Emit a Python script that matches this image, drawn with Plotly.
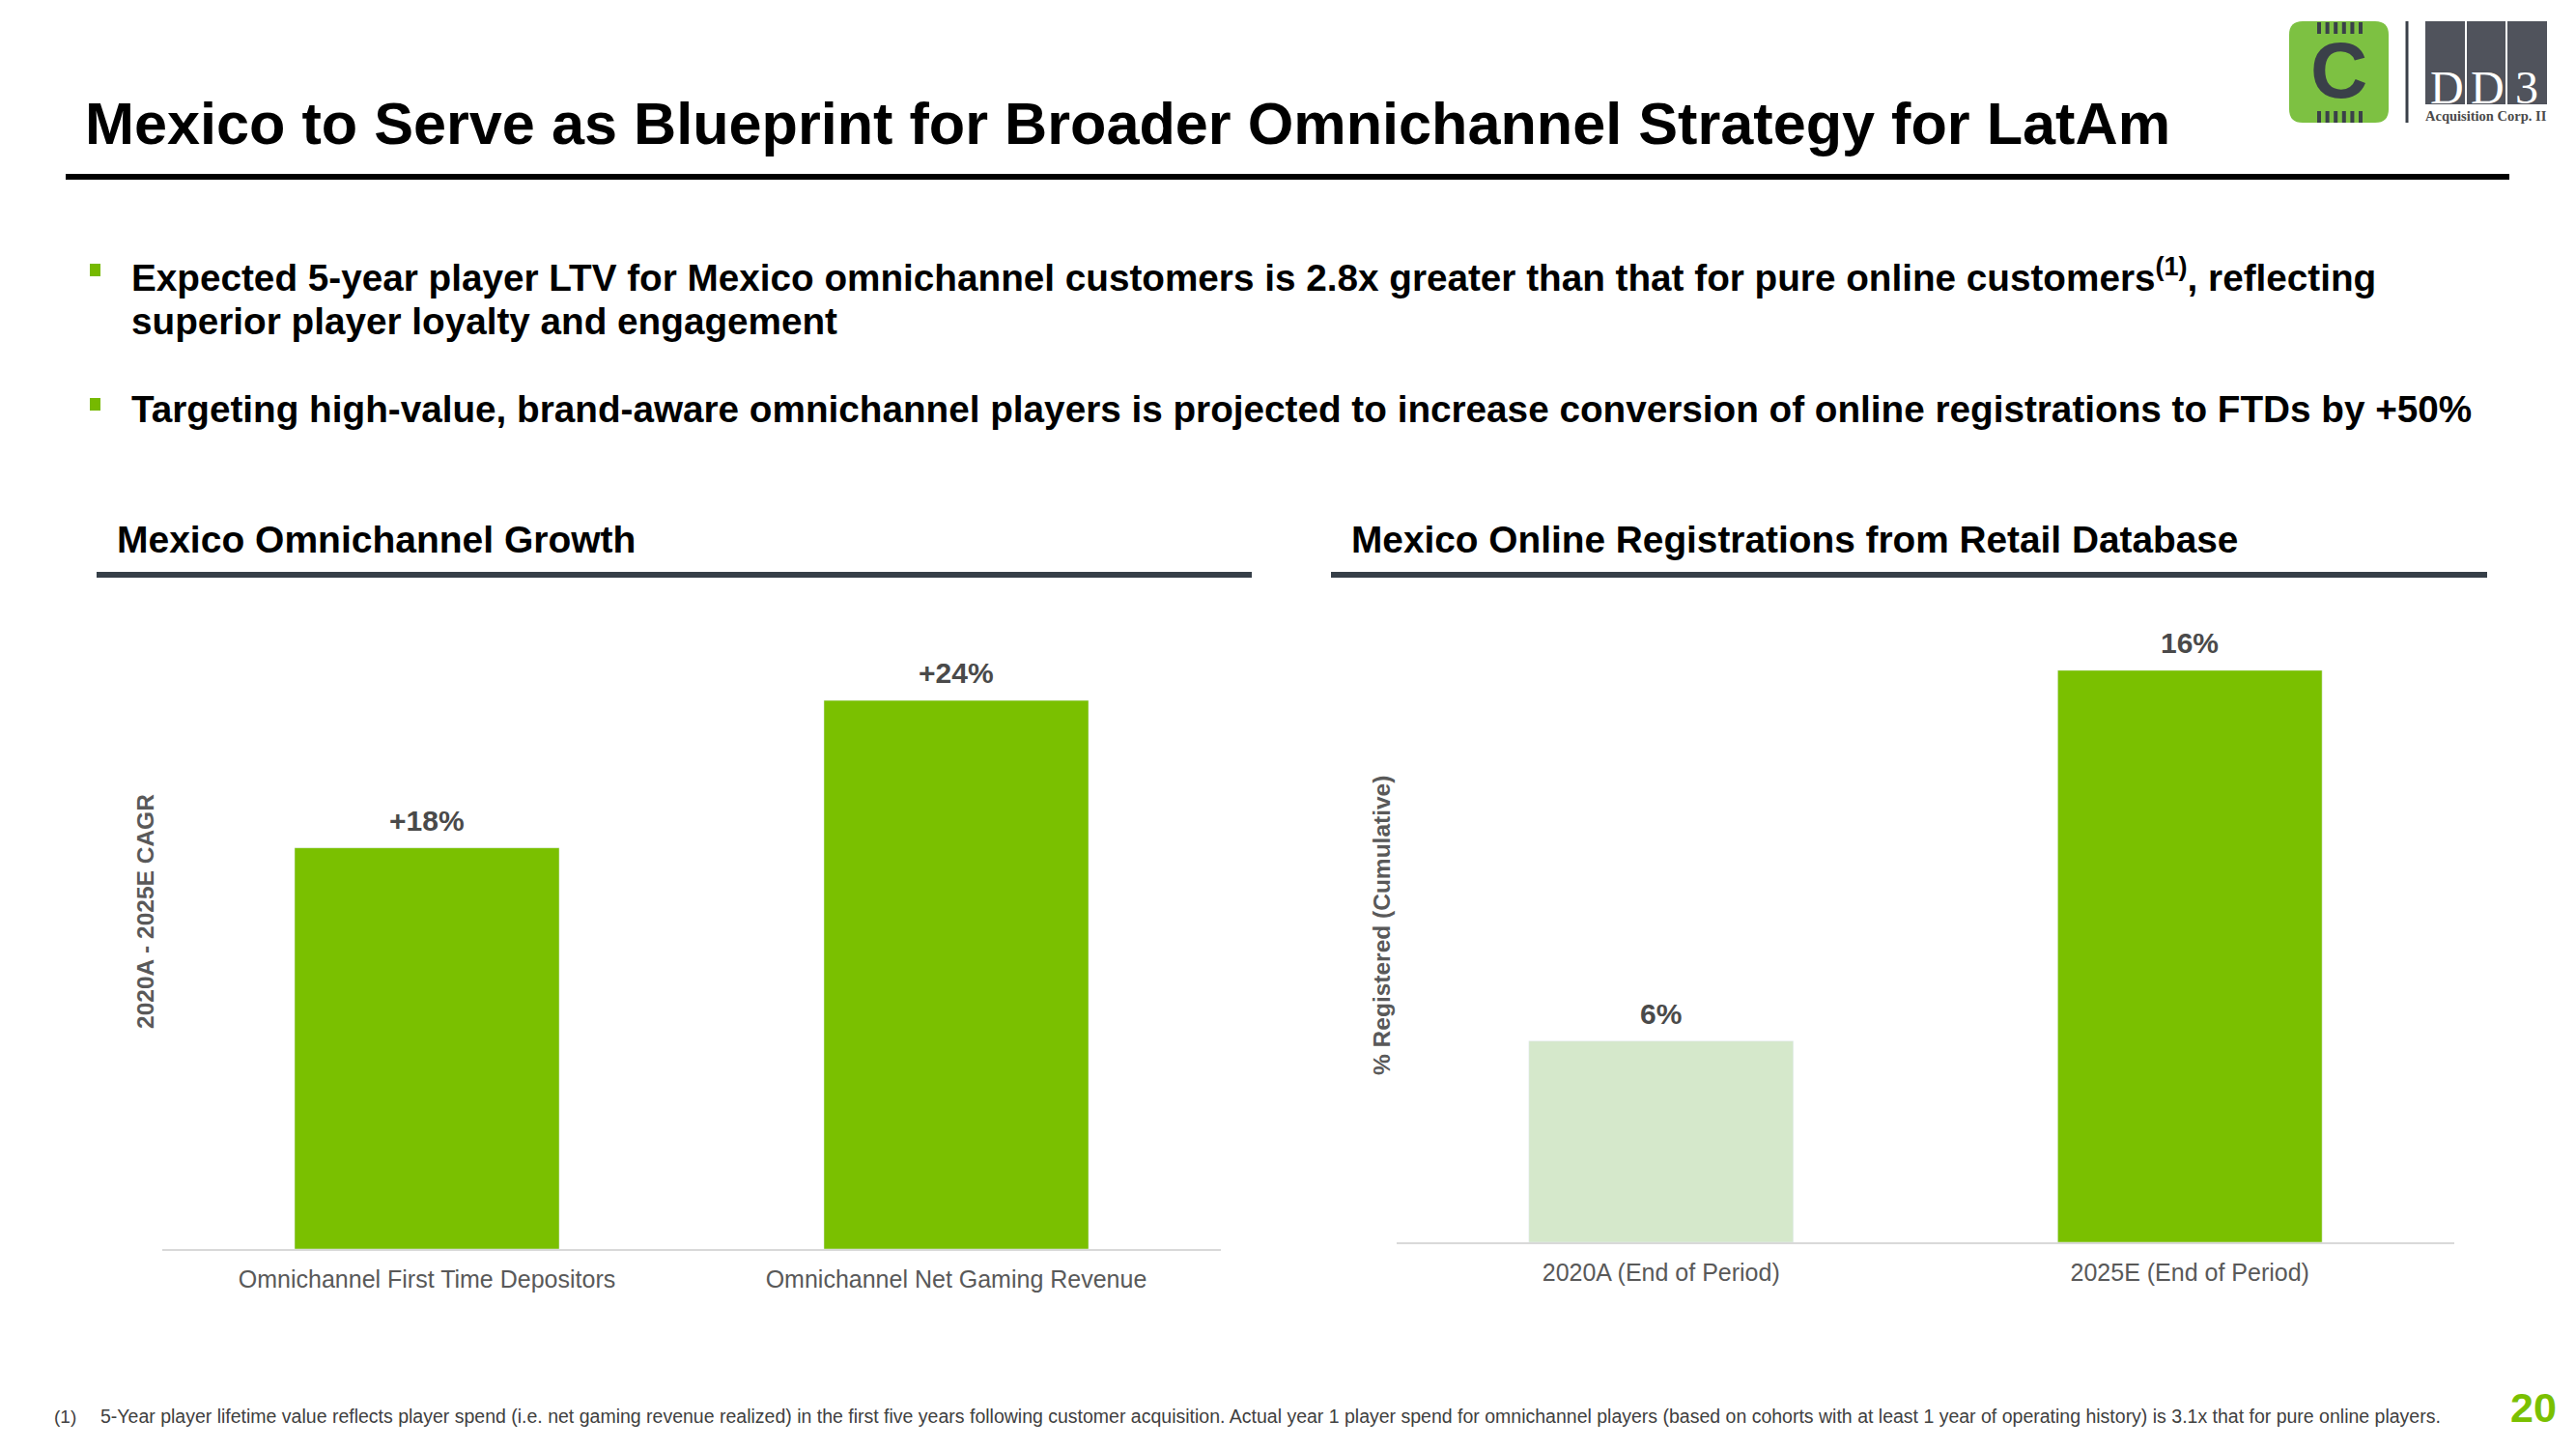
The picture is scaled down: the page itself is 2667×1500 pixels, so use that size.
import plotly.graph_objects as go

W, H = 2667, 1500

# ---------------- data ----------------
growth_categories = ["Omnichannel First Time Depositors", "Omnichannel Net Gaming Revenue"]
growth_values = [17.7, 24.2]
growth_labels = ["+18%", "+24%"]
growth_colors = ["#7AC000", "#7AC000"]

reg_categories = ["2020A (End of Period)", "2025E (End of Period)"]
reg_values = [5.7, 16.2]
reg_labels = ["6%", "16%"]
reg_colors = ["#D5E8CB", "#7AC000"]

title_text = "Mexico to Serve as Blueprint for Broader Omnichannel Strategy for LatAm"
bullet1_line1 = "Expected 5-year player LTV for Mexico omnichannel customers is 2.8x greater than that for pure online customers<sup>(1)</sup>, reflecting"
bullet1_line2 = "superior player loyalty and engagement"
bullet2 = "Targeting high-value, brand-aware omnichannel players is projected to increase conversion of online registrations to FTDs by +50%"
left_header = "Mexico Omnichannel Growth"
right_header = "Mexico Online Registrations from Retail Database"
left_ytitle = "2020A - 2025E CAGR"
right_ytitle = "% Registered (Cumulative)"
footnote = ("5-Year player lifetime value reflects player spend (i.e. net gaming revenue realized) in the first five years "
            "following customer acquisition. Actual year 1 player spend for omnichannel players (based on cohorts with at "
            "least 1 year of operating history) is 3.1x that for pure online players.")
page_number = "20"

FONT = "Arial, Liberation Sans, Helvetica, sans-serif"
SERIF = "Liberation Serif, Times New Roman, serif"
GREEN = "#7AC000"
DARK = "#3A4049"


def px(x):
    return x / W


def py(y):
    return 1 - y / H


fig = go.Figure()

fig.add_trace(go.Bar(x=growth_categories, y=growth_values, marker_color=growth_colors,
                     width=0.5, xaxis="x", yaxis="y", hoverinfo="skip"))
fig.add_trace(go.Bar(x=reg_categories, y=reg_values, marker_color=reg_colors,
                     width=0.5, xaxis="x2", yaxis="y2", hoverinfo="skip"))

annotations = []
# value labels above bars (anchored to data)
for c, v, t in zip(growth_categories, growth_values, growth_labels):
    annotations.append(dict(x=c, y=v, xref="x", yref="y", text=t, showarrow=False,
                            yanchor="bottom", yshift=10,
                            font=dict(family=FONT, size=30, color="#4A4A4A", weight="bold")))
for c, v, t in zip(reg_categories, reg_values, reg_labels):
    annotations.append(dict(x=c, y=v, xref="x2", yref="y2", text=t, showarrow=False,
                            yanchor="bottom", yshift=10,
                            font=dict(family=FONT, size=30, color="#4A4A4A", weight="bold")))

def txt(x, y, text, size, color="#000000", bold=False, xanchor="left", family=FONT, angle=0):
    annotations.append(dict(x=px(x), y=py(y), xref="paper", yref="paper", text=text,
                            showarrow=False, xanchor=xanchor, yanchor="middle", textangle=angle,
                            font=dict(family=family, size=size, color=color,
                                      weight="bold" if bold else "normal")))

# title
txt(86, 128, title_text, 61.2, bold=True)
# bullets
txt(134, 284, bullet1_line1, 38.7, bold=True)
txt(134, 332, bullet1_line2, 38.7, bold=True)
txt(134, 424, bullet2, 38.7, bold=True)
# section headers
txt(119, 558, left_header, 39, bold=True)
txt(1397, 558, right_header, 38.8, bold=True)
# y-axis titles
txt(150, 944, left_ytitle, 24.5, color="#595959", bold=True, xanchor="center", angle=-90)
txt(1430, 958, right_ytitle, 24.5, color="#595959", bold=True, xanchor="center", angle=-90)
# footnote
txt(54, 1466, "(1)", 19, color="#404040")
txt(102, 1466, footnote, 19.5, color="#404040")
# page number
txt(2623, 1457, page_number, 43, color=GREEN, bold=True, xanchor="center")

# logo texts
txt(2421, 72, "C", 82, color=DARK, bold=True, xanchor="center")
txt(2533, 90, "D", 48, color="#FFFFFF", xanchor="center", family=SERIF)
txt(2575, 90, "D", 48, color="#FFFFFF", xanchor="center", family=SERIF)
txt(2616, 90, "3", 48, color="#FFFFFF", xanchor="center", family=SERIF)
txt(2574, 120, "Acquisition Corp. II", 14.5, color="#4A4A4A", bold=True, xanchor="center", family=SERIF)

shapes = []

def line(x0, y0, x1, y1, color, width):
    shapes.append(dict(type="line", xref="paper", yref="paper", x0=px(x0), y0=py(y0),
                       x1=px(x1), y1=py(y1), line=dict(color=color, width=width)))

def rect(x0, y0, x1, y1, color):
    shapes.append(dict(type="rect", xref="paper", yref="paper", x0=px(x0), y0=py(y0),
                       x1=px(x1), y1=py(y1), fillcolor=color, line=dict(width=0), layer="below"))

# title underline
line(68, 183, 2598, 183, "#000000", 6)
# section underlines
line(100, 595, 1296, 595, "#363F48", 6)
line(1378, 595, 2575, 595, "#363F48", 6)
# bullets
rect(93, 273, 104, 286, "#76B900")
rect(93, 412, 104, 425, "#76B900")

# logo: green rounded square
x0, y0, x1, y1, r = 2370, 22, 2473, 127, 14
path = (f"M {px(x0 + r)},{py(y0)} L {px(x1 - r)},{py(y0)} Q {px(x1)},{py(y0)} {px(x1)},{py(y0 + r)} "
        f"L {px(x1)},{py(y1 - r)} Q {px(x1)},{py(y1)} {px(x1 - r)},{py(y1)} "
        f"L {px(x0 + r)},{py(y1)} Q {px(x0)},{py(y1)} {px(x0)},{py(y1 - r)} "
        f"L {px(x0)},{py(y0 + r)} Q {px(x0)},{py(y0)} {px(x0 + r)},{py(y0)} Z")
shapes.append(dict(type="path", xref="paper", yref="paper", path=path,
                   fillcolor="#7DC142", line=dict(width=0), layer="below"))
for i in range(6):
    bx = 2399 + i * 8.6
    shapes.append(dict(type="rect", xref="paper", yref="paper", x0=px(bx), x1=px(bx + 4),
                       y0=py(23), y1=py(35), fillcolor=DARK, line=dict(width=0)))
    shapes.append(dict(type="rect", xref="paper", yref="paper", x0=px(bx), x1=px(bx + 4),
                       y0=py(115), y1=py(127), fillcolor=DARK, line=dict(width=0)))
# divider
line(2492, 22, 2492, 127, DARK, 3)
# DD3 box
rect(2511, 22, 2637, 108, "#50535C")
line(2553, 22, 2553, 108, "#FFFFFF", 2)
line(2595, 22, 2595, 108, "#FFFFFF", 2)

axis_common = dict(type="category", showline=True, linecolor="#D9D9D9", linewidth=2,
                   ticks="", showgrid=False, zeroline=False, range=[-0.5, 1.5],
                   tickfont=dict(family=FONT, size=25, color="#595959"), fixedrange=True,
                   ticklabelstandoff=8)
yaxis_common = dict(showline=False, showticklabels=False, showgrid=False, zeroline=False,
                    ticks="", fixedrange=True)

fig.update_layout(
    width=W, height=H,
    margin=dict(l=0, r=0, t=0, b=0),
    paper_bgcolor="#FFFFFF", plot_bgcolor="rgba(0,0,0,0)",
    showlegend=False,
    font=dict(family=FONT),
    xaxis=dict(domain=[px(168), px(1264)], anchor="y", **axis_common),
    yaxis=dict(domain=[py(1293), py(700)], range=[0, 25.27], anchor="x", **yaxis_common),
    xaxis2=dict(domain=[px(1446), px(2541)], anchor="y2", **axis_common),
    yaxis2=dict(domain=[py(1286), py(680)], range=[0, 16.58], anchor="x2", **yaxis_common),
    annotations=annotations,
    shapes=shapes,
)

fig.write_html("out.html")
